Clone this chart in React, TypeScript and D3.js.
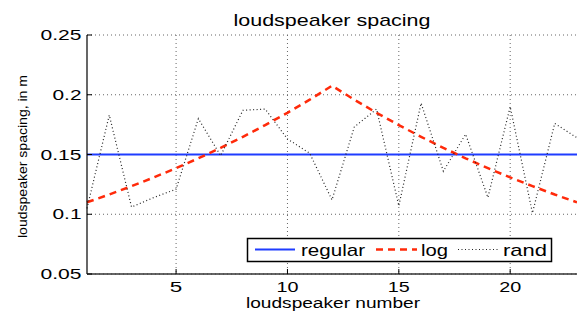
import React from "react";
import * as d3 from "d3";

const speakers = d3.range(1, 24);
const regularValues = [0.15, 0.15, 0.15, 0.15, 0.15, 0.15, 0.15, 0.15, 0.15, 0.15, 0.15, 0.15, 0.15, 0.15, 0.15, 0.15, 0.15, 0.15, 0.15, 0.15, 0.15, 0.15, 0.15];
const logValues = [0.110, 0.1165, 0.1235, 0.1308, 0.1386, 0.1468, 0.1555, 0.1648, 0.1746, 0.1849, 0.1959, 0.2075, 0.1959, 0.1849, 0.1746, 0.1648, 0.1555, 0.1468, 0.1386, 0.1308, 0.1235, 0.1165, 0.110];
const randValues = [0.105, 0.183, 0.106, 0.114, 0.121, 0.180, 0.149, 0.187, 0.188, 0.163, 0.151, 0.112, 0.173, 0.188, 0.107, 0.193, 0.136, 0.167, 0.114, 0.190, 0.101, 0.176, 0.164];
const xTicks = [5, 10, 15, 20];
const yTicks = [0.05, 0.1, 0.15, 0.2, 0.25];
const yTickLabels = ["0.05", "0.1", "0.15", "0.2", "0.25"];

const W = 577, H = 312;
const FONT = "'Liberation Sans', Arial, Helvetica, sans-serif";

export default function App() {
  const x = d3.scaleLinear().domain([1, 23]).range([87, 577]);
  const y = d3.scaleLinear().domain([0.05, 0.25]).range([274, 35]);
  const line = d3.line<number>().x((_, i) => x(speakers[i])).y((d) => y(d));

  const left = x.range()[0], right = x.range()[1];
  const top = y.range()[1], bottom = y.range()[0];

  return (
    <svg width={W} height={H} style={{ position: "absolute", left: 0, top: 0, background: "#fff" }} fontFamily={FONT}>
      <rect x={0} y={0} width={W} height={H} fill="#fff" />
      {/* grid */}
      {xTicks.map((t) => (
        <line key={"gx" + t} x1={x(t)} x2={x(t)} y1={top} y2={bottom} stroke="#666" strokeWidth={1} strokeDasharray="1 3" />
      ))}
      {yTicks.map((t) => (
        <line key={"gy" + t} x1={left} x2={right} y1={y(t)} y2={y(t)} stroke="#666" strokeWidth={1} strokeDasharray="1 3" />
      ))}
      {/* series */}
      <path d={line(regularValues) || ""} fill="none" stroke="#1f3cff" strokeWidth={2} />
      <path d={line(logValues) || ""} fill="none" stroke="#ff2a0a" strokeWidth={2.5} strokeDasharray="7 5" />
      <path d={line(randValues) || ""} fill="none" stroke="#222" strokeWidth={1.2} strokeDasharray="1 2.5" />
      {/* axes */}
      <line x1={left} x2={left} y1={top} y2={bottom} stroke="#000" strokeWidth={1.2} />
      <line x1={left} x2={right} y1={bottom} y2={bottom} stroke="#333" strokeWidth={1.5} />
      {yTicks.map((t) => (
        <line key={"ty" + t} x1={left} x2={left + 5} y1={y(t)} y2={y(t)} stroke="#000" strokeWidth={1} />
      ))}
      {xTicks.map((t) => (
        <line key={"tx" + t} x1={x(t)} x2={x(t)} y1={bottom} y2={bottom - 5} stroke="#000" strokeWidth={1} />
      ))}
      {/* tick labels */}
      {yTicks.map((t, i) => (
        <text key={"ly" + t} x={81.5} y={y(t) + 5} fontSize={14.5} textAnchor="end"
          textLength={yTickLabels[i].length === 4 ? 41 : 29} lengthAdjust="spacingAndGlyphs">{yTickLabels[i]}</text>
      ))}
      {xTicks.map((t) => (
        <text key={"lx" + t} x={x(t)} y={292} fontSize={14.5} textAnchor="middle"
          textLength={String(t).length === 1 ? 12.5 : 22} lengthAdjust="spacingAndGlyphs">{String(t)}</text>
      ))}
      {/* titles */}
      <text x={332} y={26} fontSize={17} textAnchor="middle" textLength={197} lengthAdjust="spacingAndGlyphs">loudspeaker spacing</text>
      <text x={333} y={308} fontSize={15.5} textAnchor="middle" textLength={174} lengthAdjust="spacingAndGlyphs">loudspeaker number</text>
      <text transform="translate(26.5,156.5) rotate(-90)" fontSize={13.5} textAnchor="middle" textLength={163} lengthAdjust="spacingAndGlyphs">loudspeaker spacing, in m</text>
      {/* legend */}
      <rect x={247.5} y={238.5} width={304} height={23} fill="#fff" stroke="#000" strokeWidth={1.5} />
      <line x1={255} x2={295} y1={249.5} y2={249.5} stroke="#1f3cff" strokeWidth={2} />
      <text x={301} y={256} fontSize={17} textLength={64} lengthAdjust="spacingAndGlyphs">regular</text>
      <line x1={376} x2={417} y1={249.5} y2={249.5} stroke="#ff2a0a" strokeWidth={2.5} strokeDasharray="7 5" />
      <text x={421} y={256} fontSize={17} textLength={27} lengthAdjust="spacingAndGlyphs">log</text>
      <line x1={458} x2={498} y1={249.5} y2={249.5} stroke="#222" strokeWidth={1.2} strokeDasharray="1 2.5" />
      <text x={503} y={256} fontSize={17} textLength={44} lengthAdjust="spacingAndGlyphs">rand</text>
    </svg>
  );
}
